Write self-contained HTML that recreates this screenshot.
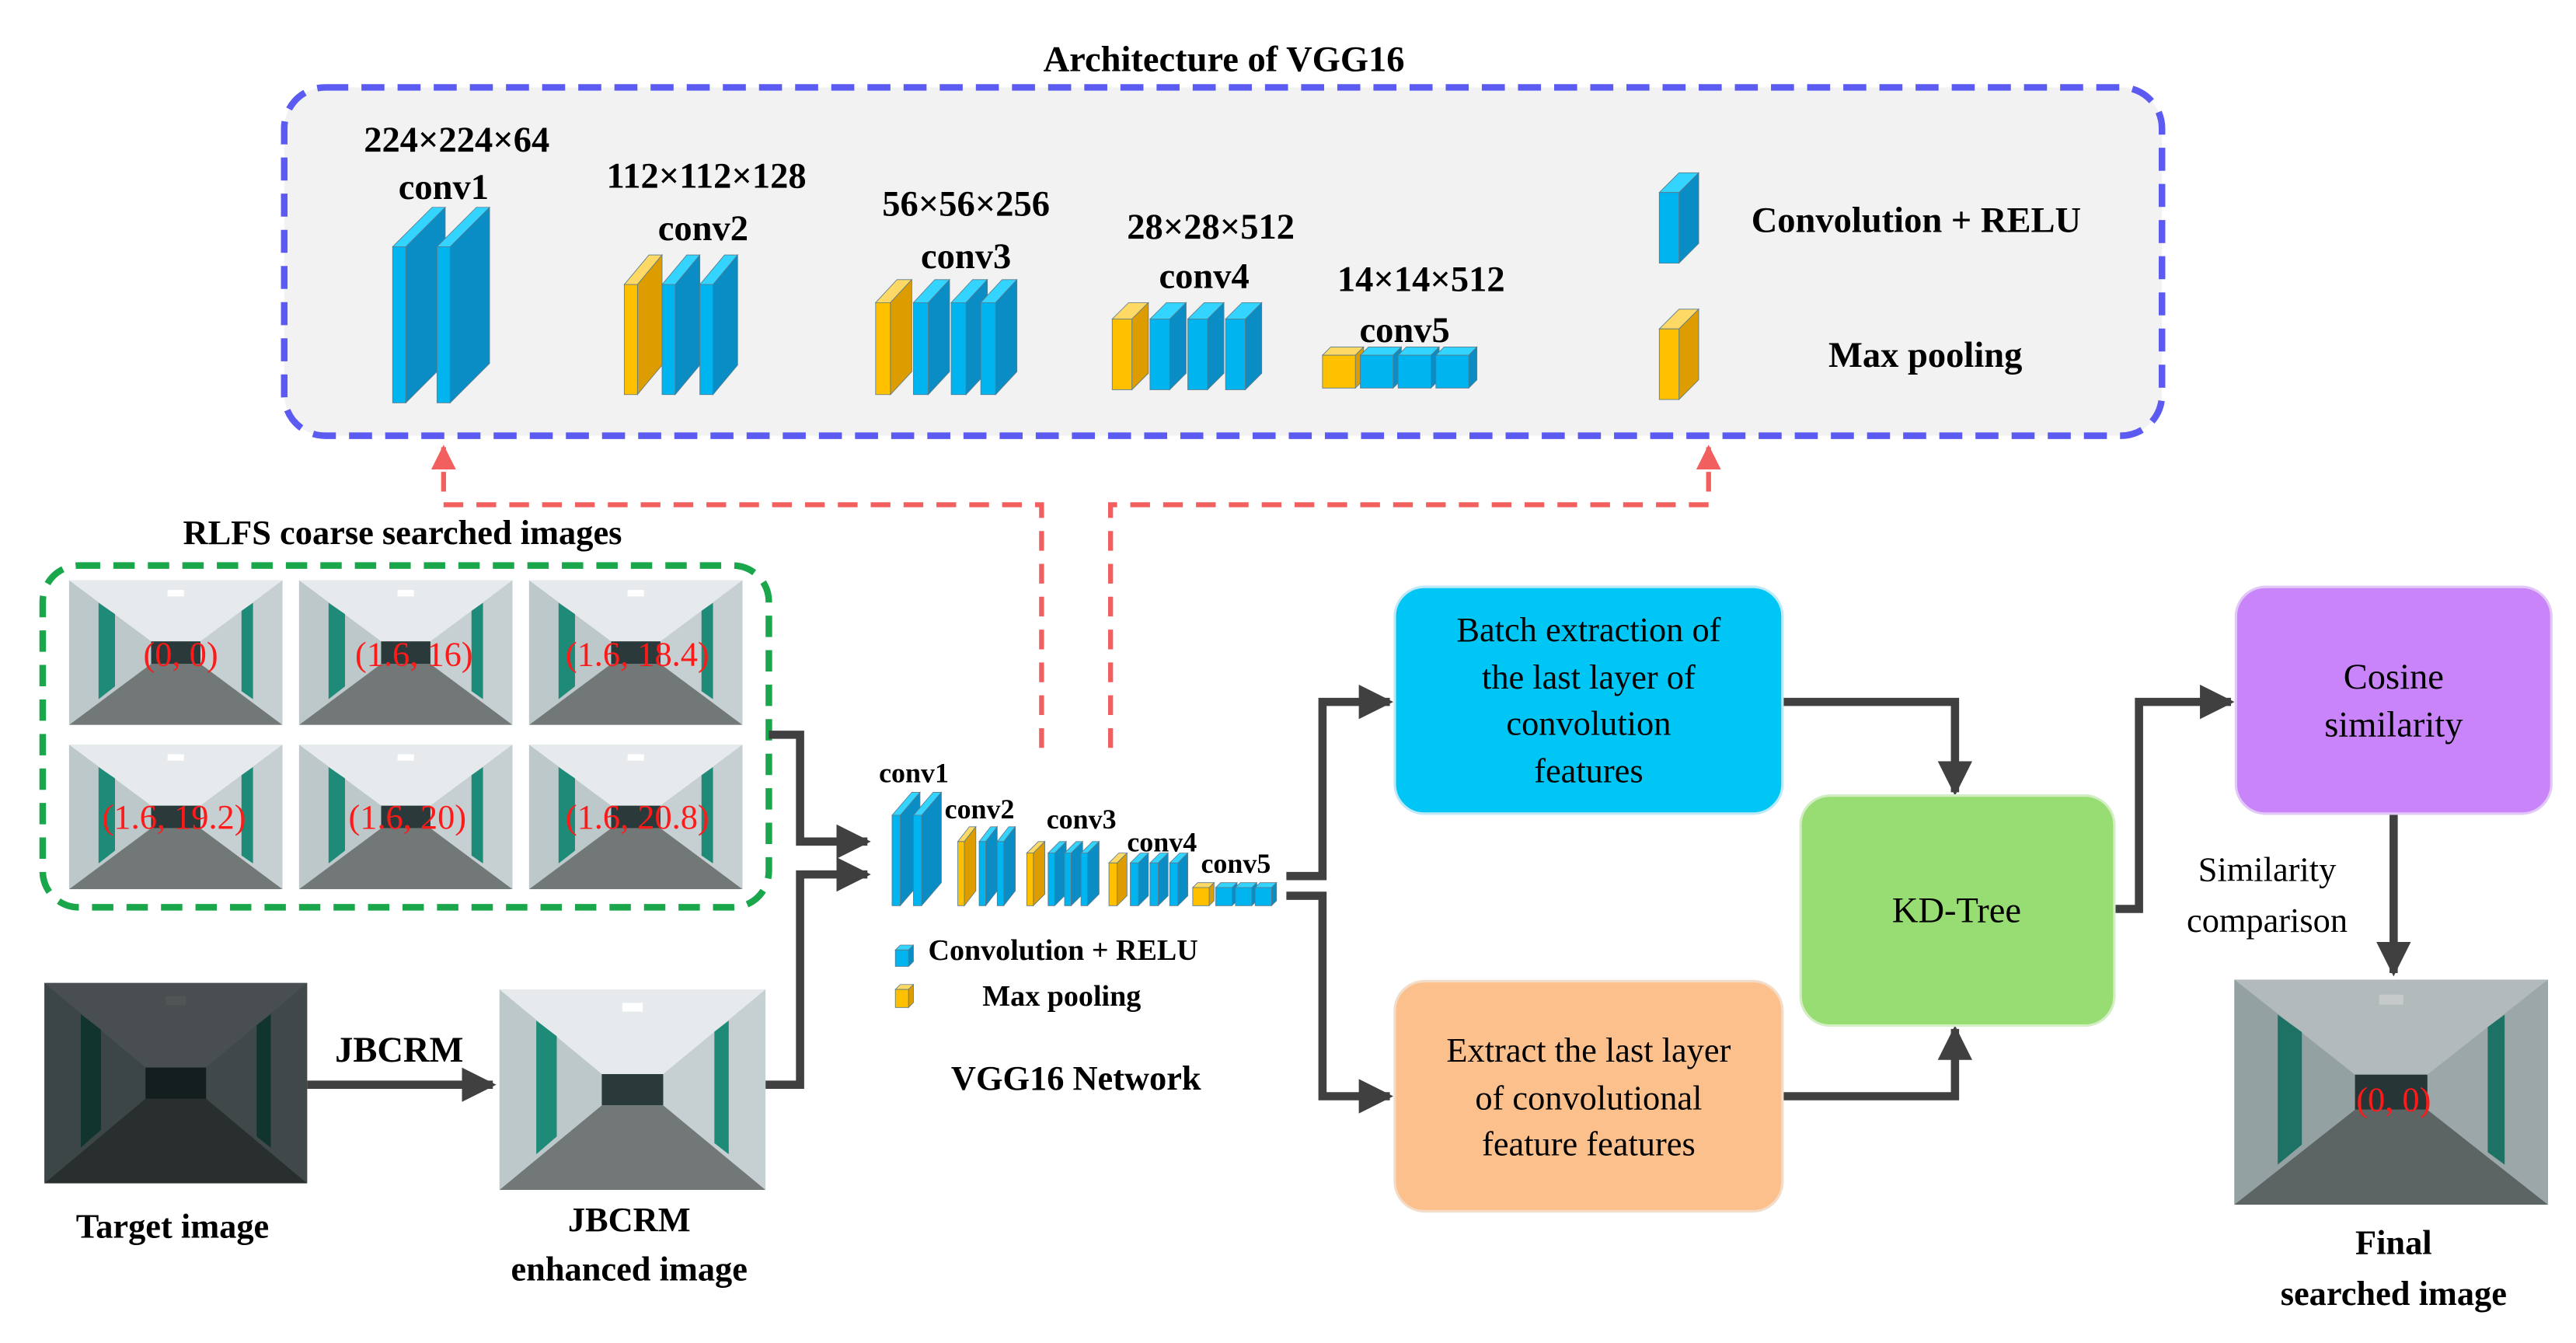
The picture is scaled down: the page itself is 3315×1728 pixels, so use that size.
<!DOCTYPE html>
<html><head><meta charset="utf-8"><style>
html,body{margin:0;padding:0;background:#fff}
svg{display:block}
svg text{font-family:"Liberation Serif","DejaVu Serif",serif;fill:#000}
.b{font-weight:bold}
</style></head><body>
<svg id="s" width="3315" height="1728" viewBox="0 0 1568 817" xmlns="http://www.w3.org/2000/svg" font-family="Liberation Serif, DejaVu Serif, serif">
<defs>
<symbol id="cor" viewBox="0 0 130 90" preserveAspectRatio="none">
<rect width="130" height="90" fill="#cfd6d8"/>
<polygon points="0,0 130,0 80,38 50,38" fill="#e6eaec"/>
<polygon points="0,90 130,90 80,52 50,52" fill="#727777"/>
<polygon points="0,0 50,38 50,52 0,90" fill="#bcc8ca"/>
<polygon points="18,14 28,21 28,66 18,74" fill="#1e8a78"/>
<polygon points="130,0 80,38 80,52 130,90" fill="#c6d0d2"/>
<polygon points="105,19 112,14 112,74 105,69" fill="#1e8a78"/>
<rect x="50" y="38" width="30" height="14" fill="#2a3a3a"/>
<rect x="60" y="6" width="10" height="4" fill="#fff"/>
</symbol>
<marker id="ag" viewBox="0 0 10 10" refX="9" refY="5" markerWidth="4.2" markerHeight="4.2" orient="auto"><path d="M0,0L10,5L0,10z" fill="#404040"/></marker>
<marker id="ar" viewBox="0 0 10 10" refX="9" refY="5" markerWidth="5" markerHeight="5" orient="auto"><path d="M0,0L10,5L0,10z" fill="#f25f5f"/></marker>
</defs>

<text x="745" y="43" class="b" font-size="22" text-anchor="middle">Architecture of VGG16</text>
<rect x="173" y="53" width="1143" height="212" rx="25" fill="#f2f2f2" stroke="#5b5bf2" stroke-width="4" stroke-dasharray="14,8"/>
<g id="big"></g>
<g class="b" font-size="22" text-anchor="middle">
<text x="278" y="92" class="b">224×224×64</text><text x="270" y="121" class="b">conv1</text>
<text x="430" y="114" class="b">112×112×128</text><text x="428" y="146" class="b">conv2</text>
<text x="588" y="131" class="b">56×56×256</text><text x="588" y="163" class="b">conv3</text>
<text x="737" y="145" class="b">28×28×512</text><text x="733" y="175" class="b">conv4</text>
<text x="865" y="177" class="b">14×14×512</text><text x="855" y="208" class="b">conv5</text>
</g>
<text x="1066" y="141" class="b" font-size="22">Convolution + RELU</text>
<text x="1113" y="223" class="b" font-size="22">Max pooling</text>

<path d="M634,455 V307 H270 V272" fill="none" stroke="#f25f5f" stroke-width="3" stroke-dasharray="12,8" marker-end="url(#ar)"/>
<path d="M676,455 V307 H1040 V272" fill="none" stroke="#f25f5f" stroke-width="3" stroke-dasharray="12,8" marker-end="url(#ar)"/>

<text x="245" y="331" class="b" font-size="21" text-anchor="middle">RLFS coarse searched images</text>
<rect x="26" y="344" width="442" height="208" rx="22" fill="none" stroke="#1aa64a" stroke-width="4" stroke-dasharray="13,8"/>
<use href="#cor" x="42" y="353" width="130" height="88"/>
<use href="#cor" x="182" y="353" width="130" height="88"/>
<use href="#cor" x="322" y="353" width="130" height="88"/>
<use href="#cor" x="42" y="453" width="130" height="88"/>
<use href="#cor" x="182" y="453" width="130" height="88"/>
<use href="#cor" x="322" y="453" width="130" height="88"/>
<g font-size="21" text-anchor="middle">
<text x="110" y="405" style="fill:#ff1a1a">(0, 0)</text>
<text x="252" y="405" style="fill:#ff1a1a">(1.6, 16)</text>
<text x="388" y="405" style="fill:#ff1a1a">(1.6, 18.4)</text>
<text x="106" y="504" style="fill:#ff1a1a">(1.6, 19.2)</text>
<text x="248" y="504" style="fill:#ff1a1a">(1.6, 20)</text>
<text x="388" y="504" style="fill:#ff1a1a">(1.6, 20.8)</text>
</g>

<use href="#cor" x="27" y="598" width="160" height="122"/>
<rect x="27" y="598" width="160" height="122" fill="#0d1414" opacity="0.72"/>
<use href="#cor" x="304" y="602" width="162" height="122"/>
<text x="243" y="646" class="b" font-size="22" text-anchor="middle">JBCRM</text>
<text x="105" y="753" class="b" font-size="21" text-anchor="middle">Target image</text>
<text x="383" y="749" class="b" font-size="21" text-anchor="middle">JBCRM</text>
<text x="383" y="779" class="b" font-size="21" text-anchor="middle">enhanced image</text>

<g fill="none" stroke="#404040" stroke-width="5">
<path d="M187,660 H300" marker-end="url(#ag)"/>
<path d="M468,447 H487 V512 H528" marker-end="url(#ag)"/>
<path d="M466,660 H487 V532 H528" marker-end="url(#ag)"/>
<path d="M783,533 H805 V427 H846" marker-end="url(#ag)"/>
<path d="M783,545 H805 V667 H846" marker-end="url(#ag)"/>
<path d="M1085,427 H1190 V482" marker-end="url(#ag)"/>
<path d="M1085,667 H1190 V626" marker-end="url(#ag)"/>
<path d="M1287,553 H1302 V427 H1358" marker-end="url(#ag)"/>
<path d="M1457,495 V592" marker-end="url(#ag)"/>
</g>

<g id="small"></g>
<g font-size="17" class="b">
<text x="535" y="476" class="b">conv1</text>
<text x="575" y="498" class="b">conv2</text>
<text x="637" y="504" class="b">conv3</text>
<text x="686" y="518" class="b">conv4</text>
<text x="731" y="531" class="b">conv5</text>
</g>
<text x="565" y="584" class="b" font-size="18">Convolution + RELU</text>
<text x="598" y="612" class="b" font-size="18">Max pooling</text>
<text x="655" y="663" class="b" font-size="21" text-anchor="middle">VGG16 Network</text>

<rect x="849" y="357" width="236" height="138" rx="18" fill="#00c6f6" stroke="#bfe9f7" stroke-width="1.5"/>
<g font-size="21" text-anchor="middle">
<text x="967" y="390">Batch extraction of</text>
<text x="967" y="419">the last layer of</text>
<text x="967" y="447">convolution</text>
<text x="967" y="476">features</text>
</g>
<rect x="849" y="597" width="236" height="140" rx="18" fill="#fcc08c" stroke="#f3dcc8" stroke-width="1.5"/>
<g font-size="21" text-anchor="middle">
<text x="967" y="646">Extract the last layer</text>
<text x="967" y="675">of convolutional</text>
<text x="967" y="703">feature features</text>
</g>
<rect x="1096" y="484" width="191" height="140" rx="18" fill="#98dc74" stroke="#d3eec4" stroke-width="1.5"/>
<text x="1191" y="561" font-size="22" text-anchor="middle">KD-Tree</text>
<rect x="1361" y="357" width="192" height="138" rx="18" fill="#c884f8" stroke="#e2c8f6" stroke-width="1.5"/>
<text x="1457" y="419" font-size="22" text-anchor="middle">Cosine</text>
<text x="1457" y="448" font-size="22" text-anchor="middle">similarity</text>
<text x="1380" y="536" font-size="21" text-anchor="middle">Similarity</text>
<text x="1380" y="567" font-size="21" text-anchor="middle">comparison</text>

<use href="#cor" x="1360" y="596" width="191" height="137"/>
<rect x="1360" y="596" width="191" height="137" fill="#1a2a2a" opacity="0.25"/>
<text x="1457" y="676" font-size="21" text-anchor="middle" style="fill:#ff1a1a">(0, 0)</text>
<text x="1457" y="763" class="b" font-size="21" text-anchor="middle">Final</text>
<text x="1457" y="794" class="b" font-size="21" text-anchor="middle">searched image</text>
</svg>
<script>
var NS="http://www.w3.org/2000/svg";
function poly(g,pts,fill){var p=document.createElementNS(NS,"polygon");p.setAttribute("points",pts.map(function(a){return a.join(",")}).join(" "));p.setAttribute("fill",fill);p.setAttribute("stroke","#5a7a8a");p.setAttribute("stroke-width","0.4");g.appendChild(p);}
function slab(g,x,yt,yb,w,dx,dy,c){
 var C=c=="y"?["#ffc000","#ffd966","#dd9d00"]:["#00b4f0","#33d4ff","#0a8cc4"];
 poly(g,[[x,yt],[x+w,yt],[x+w+dx,yt-dy],[x+dx,yt-dy]],C[1]);
 poly(g,[[x+w,yt],[x+w+dx,yt-dy],[x+w+dx,yb-dy],[x+w,yb]],C[2]);
 poly(g,[[x,yt],[x+w,yt],[x+w,yb],[x,yb]],C[0]);
}
var B=document.getElementById("big");
slab(B,239,150,245,8,24,24,"b");slab(B,266,150,245,8,24,24,"b");
slab(B,380,173,240,8,15,18,"y");slab(B,403,173,240,8,15,18,"b");slab(B,426,173,240,8,15,18,"b");
slab(B,533,184,240,9,13,14,"y");slab(B,556,184,240,9,13,14,"b");slab(B,579,184,240,9,13,14,"b");slab(B,597,184,240,9,13,14,"b");
slab(B,677,194,237,12,10,10,"y");slab(B,700,194,237,12,10,10,"b");slab(B,723,194,237,12,10,10,"b");slab(B,746,194,237,12,10,10,"b");
slab(B,805,216,236,20,5,5,"y");slab(B,828,216,236,20,5,5,"b");slab(B,851,216,236,20,5,5,"b");slab(B,874,216,236,20,5,5,"b");
slab(B,1010,117,160,12,12,12,"b");slab(B,1010,200,243,12,12,12,"y");
var S=document.getElementById("small");
slab(S,543,496,551,5,12,14,"b");slab(S,556,496,551,5,12,14,"b");
slab(S,583,512,551,4,7,9,"y");slab(S,596,512,551,4,7,9,"b");slab(S,607,512,551,4,7,9,"b");
slab(S,625,519,551,4,7,7,"y");slab(S,638,519,551,4,7,7,"b");slab(S,648,519,551,4,7,7,"b");slab(S,658,519,551,4,7,7,"b");
slab(S,675,525,551,5,6,6,"y");slab(S,688,525,551,5,6,6,"b");slab(S,700,525,551,5,6,6,"b");slab(S,712,525,551,5,6,6,"b");
slab(S,726,540,551,10,3,3,"y");slab(S,740,540,551,10,3,3,"b");slab(S,752,540,551,10,3,3,"b");slab(S,764,540,551,10,3,3,"b");
slab(S,545,578,588,8,3,3,"b");slab(S,545,602,613,8,3,3,"y");
</script>
</body></html>
